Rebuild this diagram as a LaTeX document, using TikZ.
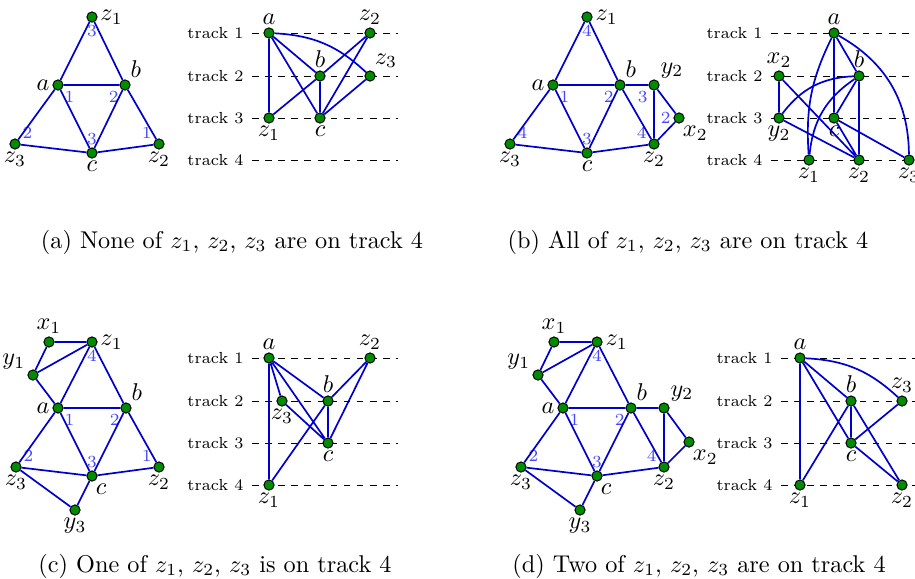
\documentclass[tikz,border=0pt]{standalone}
\usepackage{amsmath}
\usepackage{xcolor}
\usepackage{tikz}
\usetikzlibrary{positioning}

\definecolor{vgreen}{RGB}{0,140,0}
\definecolor{eblue}{RGB}{0,0,205}
\definecolor{nblue}{RGB}{70,70,255}

\begin{document}
\begin{tikzpicture}[x=0.412pt, y=0.412pt,
    every label/.style={inner sep=1pt},
    vtx/.style={circle, draw=black, fill=vgreen, inner sep=0pt, minimum size=4.2pt},
    edge/.style={draw=eblue, line width=0.7pt},
    num/.style={text=nblue, font=\scriptsize, inner sep=0.5pt, label distance=0.5pt},
    trk/.style={font=\fontsize{6.6}{8}\selectfont, anchor=east},
    trackline/.style={dash pattern=on 2.7pt off 2.7pt, thin}]
        \useasboundingbox (0,0) rectangle (915,-578);

        % Tracks
        \foreach \t/\y in {1/33,2/76,3/118,4/160} {
            \node (trA\t) [trk] at (252,-\y) {track \t};
            \coordinate (endA\t) at (398,-\y);
            \draw[trackline] (trA\t.east) -- (endA\t);
            \node (trB\t) [trk] at (771,-\y) {track \t};
            \coordinate (endB\t) at (915,-\y);
            \draw[trackline] (trB\t.east) -- (endB\t);
        }
        \foreach \t/\y in {1/358,2/401,3/443,4/485} {
            \node (trC\t) [trk] at (252,-\y) {track \t};
            \coordinate (endC\t) at (398,-\y);
            \draw[trackline] (trC\t.east) -- (endC\t);
            \node (trD\t) [trk] at (781,-\y) {track \t};
            \coordinate (endD\t) at (915,-\y);
            \draw[trackline] (trD\t.east) -- (endD\t);
        }

        % (a) Graph
        \node (gAz1) [vtx, label=right:$z_1$, label={[num]below:3}] at (92,-17) {};
        \node (gAa) [vtx, label=left:$a$, label={[num]-45:1}] at (58,-85) {};
        \node (gAb) [vtx, label=60:$b$, label={[num]-135:2}] at (125,-85) {};
        \node (gAz3) [vtx, label=below:$z_3$, label={[num]30:2}] at (15,-144) {};
        \node (gAc) [vtx, label=below:$c$, label={[num]above:3}] at (92,-153) {};
        \node (gAz2) [vtx, label=below:$z_2$, label={[num]150:1}] at (159,-144) {};
        \draw[edge] (gAz1) -- (gAa) (gAz1) -- (gAb) (gAa) -- (gAb) (gAa) -- (gAc) (gAb) -- (gAc)
            (gAa) -- (gAz3) (gAz3) -- (gAc) (gAc) -- (gAz2) (gAb) -- (gAz2);

        % (a) Track layout
        \node (tAa) [vtx, label=above:$a$] at (269,-33) {};
        \node (tAz2) [vtx, label=above:$z_2$] at (370,-33) {};
        \node (tAb) [vtx, label=above:$b$] at (320,-76) {};
        \node (tAz3) [vtx, label=70:$z_3$] at (370,-76) {};
        \node (tAz1) [vtx, label=below:$z_1$] at (269,-118) {};
        \node (tAc) [vtx, label=below:$c$] at (320,-118) {};
        \draw[edge] (tAa) -- (tAz1) (tAa) -- (tAb) (tAa) -- (tAc) (tAz2) -- (tAb) (tAz2) -- (tAc)
            (tAb) -- (tAz1) (tAb) -- (tAc) (tAz3) -- (tAc);
        \draw[edge] (tAa) to[bend left=20] (tAz3);

        % (b) Graph
        \node (gBz1) [vtx, label=right:$z_1$, label={[num]below:4}] at (587,-17) {};
        \node (gBa) [vtx, label=left:$a$, label={[num]-45:1}] at (553,-85) {};
        \node (gBb) [vtx, label=60:$b$, label={[num]-135:2}] at (620,-85) {};
        \node (gBy2) [vtx, label=50:$y_2$, label={[num]-135:3}] at (654,-85) {};
        \node (gBx2) [vtx, label=-80:$x_2$, label={[num]180:2}] at (679,-118) {};
        \node (gBz2) [vtx, label=below:$z_2$, label={[num]150:4}] at (654,-144) {};
        \node (gBc) [vtx, label=below:$c$, label={[num]above:3}] at (587,-153) {};
        \node (gBz3) [vtx, label=below:$z_3$, label={[num]30:4}] at (510,-144) {};
        \draw[edge] (gBz1) -- (gBa) (gBz1) -- (gBb) (gBa) -- (gBb) (gBa) -- (gBc) (gBb) -- (gBc)
            (gBa) -- (gBz3) (gBz3) -- (gBc) (gBc) -- (gBz2) (gBb) -- (gBz2) (gBb) -- (gBy2)
            (gBy2) -- (gBz2) (gBy2) -- (gBx2) (gBx2) -- (gBz2);

        % (b) Track layout
        \node (tBa) [vtx, label=above:$a$] at (834,-33) {};
        \node (tBx2) [vtx, label=above:$x_2$] at (779,-76) {};
        \node (tBb) [vtx, label=above:$b$] at (859,-76) {};
        \node (tBy2) [vtx, label=below:$y_2$] at (779,-118) {};
        \node (tBc) [vtx, label=below:$c$] at (834,-118) {};
        \node (tBz1) [vtx, label=below:$z_1$] at (809,-160) {};
        \node (tBz2) [vtx, label=below:$z_2$] at (859,-160) {};
        \node (tBz3) [vtx, label=below:$z_3$] at (909,-160) {};
        \draw[edge] (tBa) -- (tBb) (tBa) -- (tBc) (tBx2) -- (tBy2) (tBx2) -- (tBz2) (tBy2) -- (tBz2)
            (tBb) -- (tBc) (tBb) -- (tBz2) (tBc) -- (tBz2) (tBc) -- (tBz3);
        \draw[edge] (tBa) to[bend right=15] (tBz1);
        \draw[edge] (tBa) to[bend left=30] (tBz3);
        \draw[edge] (tBy2) to[bend left=25] (tBb);
        \draw[edge] (tBb) to[bend right=25] (tBz1);

        % (c) Graph
        \node (gCx1) [vtx, label=above:$x_1$] at (49,-342) {};
        \node (gCz1) [vtx, label=right:$z_1$, label={[num]below:4}] at (92,-342) {};
        \node (gCy1) [vtx, label=150:$y_1$] at (33,-375) {};
        \node (gCa) [vtx, label=left:$a$, label={[num]-45:1}] at (58,-408) {};
        \node (gCb) [vtx, label=60:$b$, label={[num]-135:2}] at (126,-408) {};
        \node (gCz3) [vtx, label=below:$z_3$, label={[num]30:2}] at (16,-467) {};
        \node (gCc) [vtx, label=-80:$c$, label={[num]above:3}] at (92,-476) {};
        \node (gCz2) [vtx, label=below:$z_2$, label={[num]150:1}] at (159,-467) {};
        \node (gCy3) [vtx, label=below:$y_3$] at (75,-510) {};
        \draw[edge] (gCx1) -- (gCz1) (gCx1) -- (gCy1) (gCy1) -- (gCz1) (gCy1) -- (gCa) (gCz1) -- (gCa)
            (gCz1) -- (gCb) (gCa) -- (gCb) (gCa) -- (gCc) (gCb) -- (gCc) (gCa) -- (gCz3)
            (gCz3) -- (gCc) (gCc) -- (gCz2) (gCb) -- (gCz2) (gCz3) -- (gCy3) (gCy3) -- (gCc);

        % (c) Track layout
        \node (tCa) [vtx, label=above:$a$] at (269,-358) {};
        \node (tCz2) [vtx, label=above:$z_2$] at (370,-358) {};
        \node (tCz3) [vtx, label=below:$z_3$] at (282,-401) {};
        \node (tCb) [vtx, label=above:$b$] at (328,-401) {};
        \node (tCc) [vtx, label=below:$c$] at (328,-443) {};
        \node (tCz1) [vtx, label=below:$z_1$] at (269,-485) {};
        \draw[edge] (tCa) -- (tCz1) (tCa) -- (tCz3) (tCa) -- (tCb) (tCa) -- (tCc) (tCz3) -- (tCc)
            (tCz2) -- (tCb) (tCz2) -- (tCc) (tCb) -- (tCc) (tCb) -- (tCz1);

        % (d) Graph
        \node (gDx1) [vtx, label=above:$x_1$] at (554,-342) {};
        \node (gDz1) [vtx, label=right:$z_1$, label={[num]below:4}] at (597,-342) {};
        \node (gDy1) [vtx, label=150:$y_1$] at (538,-375) {};
        \node (gDa) [vtx, label=left:$a$, label={[num]-45:1}] at (563,-408) {};
        \node (gDb) [vtx, label=60:$b$, label={[num]-135:2}] at (631,-408) {};
        \node (gDy2) [vtx, label=50:$y_2$] at (664,-408) {};
        \node (gDx2) [vtx, label=-80:$x_2$] at (689,-442) {};
        \node (gDz2) [vtx, label=below:$z_2$, label={[num]150:4}] at (664,-467) {};
        \node (gDz3) [vtx, label=below:$z_3$, label={[num]30:2}] at (521,-467) {};
        \node (gDc) [vtx, label=-80:$c$, label={[num]above:3}] at (597,-476) {};
        \node (gDy3) [vtx, label=below:$y_3$] at (580,-510) {};
        \draw[edge] (gDx1) -- (gDz1) (gDx1) -- (gDy1) (gDy1) -- (gDz1) (gDy1) -- (gDa) (gDz1) -- (gDa)
            (gDz1) -- (gDb) (gDa) -- (gDb) (gDa) -- (gDc) (gDb) -- (gDc) (gDa) -- (gDz3)
            (gDz3) -- (gDc) (gDc) -- (gDz2) (gDb) -- (gDz2) (gDb) -- (gDy2) (gDy2) -- (gDz2)
            (gDy2) -- (gDx2) (gDx2) -- (gDz2) (gDz3) -- (gDy3) (gDy3) -- (gDc);

        % (d) Track layout
        \node (tDa) [vtx, label=above:$a$] at (800,-358) {};
        \node (tDb) [vtx, label=above:$b$] at (851,-401) {};
        \node (tDz3) [vtx, label=above:$z_3$] at (902,-401) {};
        \node (tDc) [vtx, label=below:$c$] at (851,-443) {};
        \node (tDz1) [vtx, label=below:$z_1$] at (800,-485) {};
        \node (tDz2) [vtx, label=below:$z_2$] at (902,-485) {};
        \draw[edge] (tDa) -- (tDz1) (tDa) -- (tDb) (tDa) -- (tDc) (tDb) -- (tDz1) (tDb) -- (tDc)
            (tDb) -- (tDz2) (tDc) -- (tDz3) (tDc) -- (tDz2);
        \draw[edge] (tDa) to[bend left=20] (tDz3);

        % Captions
        \node (capA) at (232,-242) {(a) None of $z_1$, $z_2$, $z_3$ are on track 4};
        \node (capB) at (688,-242) {(b) All of $z_1$, $z_2$, $z_3$ are on track 4};
        \node (capC) at (215,-566) {(c) One of $z_1$, $z_2$, $z_3$ is on track 4};
        \node (capD) at (699,-566) {(d) Two of $z_1$, $z_2$, $z_3$ are on track 4};
    \end{tikzpicture}
\end{document}
